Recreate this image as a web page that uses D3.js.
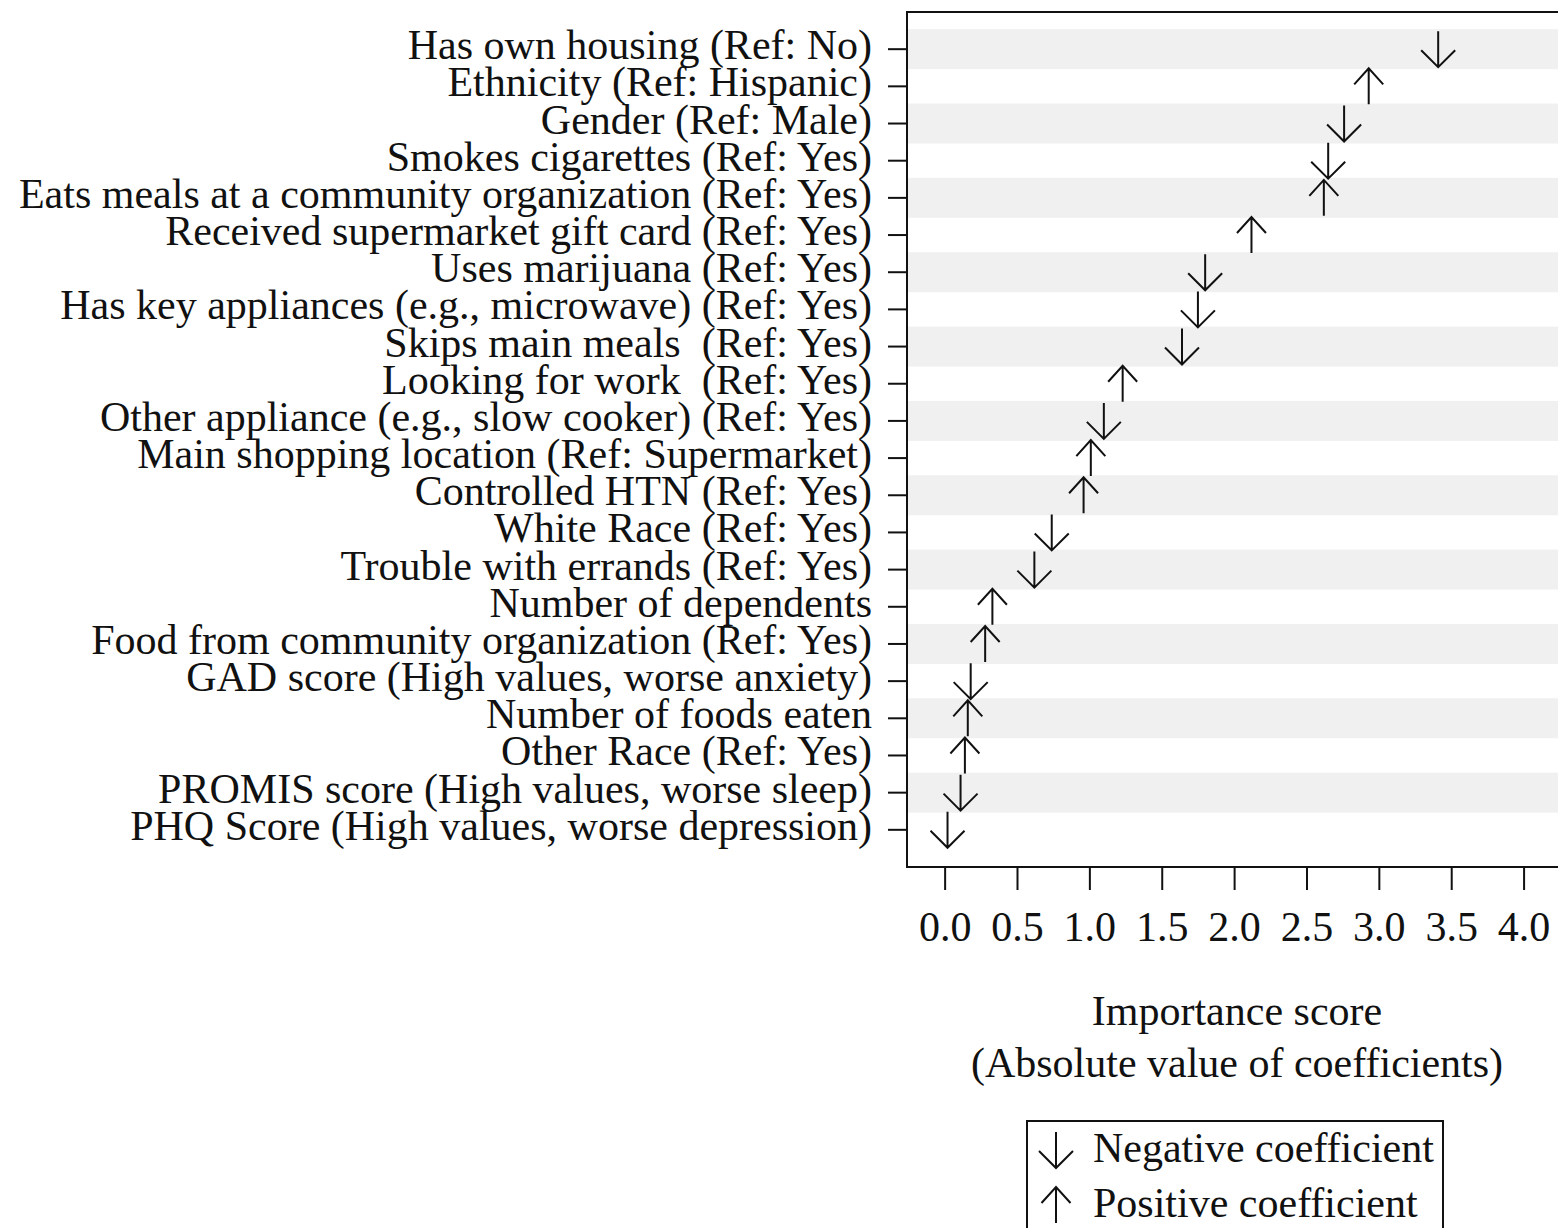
<!DOCTYPE html>
<html>
<head>
<meta charset="utf-8">
<script src="https://cdn.jsdelivr.net/npm/d3@7"></script>
<style>
  body { margin: 0; background: #fff; }
  svg { display: block; }
</style>
</head>
<body>
<div id="chart"></div>
<script>
// Predictors, top to bottom
const labels = [
    "Has own housing (Ref: No)",
    "Ethnicity (Ref: Hispanic)",
    "Gender (Ref: Male)",
    "Smokes cigarettes (Ref: Yes)",
    "Eats meals at a community organization (Ref: Yes)",
    "Received supermarket gift card (Ref: Yes)",
    "Uses marijuana (Ref: Yes)",
    "Has key appliances (e.g., microwave) (Ref: Yes)",
    "Skips main meals  (Ref: Yes)",
    "Looking for work  (Ref: Yes)",
    "Other appliance (e.g., slow cooker) (Ref: Yes)",
    "Main shopping location (Ref: Supermarket)",
    "Controlled HTN (Ref: Yes)",
    "White Race (Ref: Yes)",
    "Trouble with errands (Ref: Yes)",
    "Number of dependents",
    "Food from community organization (Ref: Yes)",
    "GAD score (High values, worse anxiety)",
    "Number of foods eaten",
    "Other Race (Ref: Yes)",
    "PROMIS score (High values, worse sleep)",
    "PHQ Score (High values, worse depression)"
];

// Absolute value of coefficients
const importance = [3.41, 2.93, 2.76, 2.65, 2.62, 2.12, 1.80, 1.75, 1.64, 1.23, 1.10,
    1.01, 0.96, 0.74, 0.62, 0.33, 0.28, 0.18, 0.16, 0.14, 0.11, 0.02];

// Sign of the coefficient: -1 negative, 1 positive
const sign = [-1, 1, -1, -1, 1, 1, -1, -1, -1, 1, -1,
    1, 1, -1, -1, 1, 1, -1, 1, 1, -1, -1];

const xTicks = [0, 0.5, 1, 1.5, 2, 2.5, 3, 3.5, 4];

const legendItems = [
    { label: "Negative coefficient", dir: -1 },
    { label: "Positive coefficient", dir: 1 }
];

const width = 1558;
const height = 1228;
const font = "'Liberation Serif', 'Times New Roman', serif";

const svg = d3.select("#chart")
    .append("svg")
    .attr("width", width)
    .attr("height", height)
    .attr("viewBox", [0, 0, width, height]);

svg.append("rect").attr("width", width).attr("height", height).attr("fill", "#fff");

const plot = { left: 907, right: 1567, top: 12, bottom: 867 };

const x = d3.scaleLinear()
    .domain([-0.26, 4.30])
    .range([plot.left, plot.right]);

const y = d3.scalePoint()
    .domain(labels)
    .range([plot.top, plot.bottom])
    .padding(1);

// arrow glyph centred on (cx, cy); dir -1 points down, 1 points up
function arrowPath(cx, cy, dir) {
    const p = d3.path();
    const tipY = cy - dir * 18;
    p.moveTo(cx, cy + dir * 18);
    p.lineTo(cx, tipY);
    const w = dir < 0 ? 17 : 14.5;
    const back = dir < 0 ? 17 : 16;
    p.moveTo(cx - w, tipY + dir * back);
    p.lineTo(cx, tipY);
    p.lineTo(cx + w, tipY + dir * back);
    return p.toString();
}

// Alternating bands
svg.append("g")
    .selectAll("rect")
    .data(labels.filter((d, i) => i % 2 === 0))
    .join("rect")
    .attr("x", plot.left)
    .attr("width", plot.right - plot.left)
    .attr("y", d => y(d) - 20)
    .attr("height", 40)
    .attr("fill", "#f0f0f0");

// Plot frame
svg.append("rect")
    .attr("x", plot.left)
    .attr("y", plot.top)
    .attr("width", plot.right - plot.left)
    .attr("height", plot.bottom - plot.top)
    .attr("fill", "none")
    .attr("stroke", "#111")
    .attr("stroke-width", 2);

// Y axis ticks + labels
const yAxis = svg.append("g");
yAxis.selectAll("line")
    .data(labels)
    .join("line")
    .attr("x1", plot.left - 19)
    .attr("x2", plot.left)
    .attr("y1", d => y(d))
    .attr("y2", d => y(d))
    .attr("stroke", "#111")
    .attr("stroke-width", 2);
yAxis.selectAll("text")
    .data(labels)
    .join("text")
    .attr("x", 872)
    .attr("y", d => y(d) + 10)
    .attr("text-anchor", "end")
    .style("font", `42px ${font}`)
    .style("white-space", "pre")
    .attr("fill", "#111")
    .text(d => d);

// X axis
const xAxis = svg.append("g")
    .attr("transform", `translate(0,${plot.bottom + 1})`)
    .call(d3.axisBottom(x).tickValues(xTicks).tickFormat(d3.format(".1f")).tickSize(22).tickPadding(52));
xAxis.select(".domain").remove();
xAxis.selectAll("line").attr("stroke", "#111").attr("stroke-width", 2);
xAxis.selectAll("text")
    .attr("dy", 0)
    .attr("y", 73)
    .style("font", `42px ${font}`)
    .attr("fill", "#111");

// Axis title
const midX = (plot.left + plot.right) / 2;
svg.append("text")
    .attr("x", midX).attr("y", 1025)
    .attr("text-anchor", "middle")
    .style("font", `42px ${font}`)
    .attr("fill", "#111")
    .text("Importance score");
svg.append("text")
    .attr("x", midX).attr("y", 1077)
    .attr("text-anchor", "middle")
    .style("font", `42px ${font}`)
    .attr("fill", "#111")
    .text("(Absolute value of coefficients)");

// Arrows
svg.append("g")
    .selectAll("path")
    .data(labels)
    .join("path")
    .attr("d", (d, i) => arrowPath(x(importance[i]), y(d), sign[i]))
    .attr("fill", "none")
    .attr("stroke", "#111")
    .attr("stroke-width", 2);

// Legend
const legend = svg.append("g");
legend.append("rect")
    .attr("x", 1027).attr("y", 1121)
    .attr("width", 416).attr("height", 140)
    .attr("fill", "#fff")
    .attr("stroke", "#111")
    .attr("stroke-width", 2);
legendItems.forEach((item, i) => {
    const cy = 1150 + i * 55;
    legend.append("path")
        .attr("d", arrowPath(1056, cy, item.dir))
        .attr("fill", "none")
        .attr("stroke", "#111")
        .attr("stroke-width", 2);
    legend.append("text")
        .attr("x", 1093).attr("y", 1162 + i * 55)
        .style("font", `42px ${font}`)
        .attr("fill", "#111")
        .text(item.label);
});
</script>
</body>
</html>
